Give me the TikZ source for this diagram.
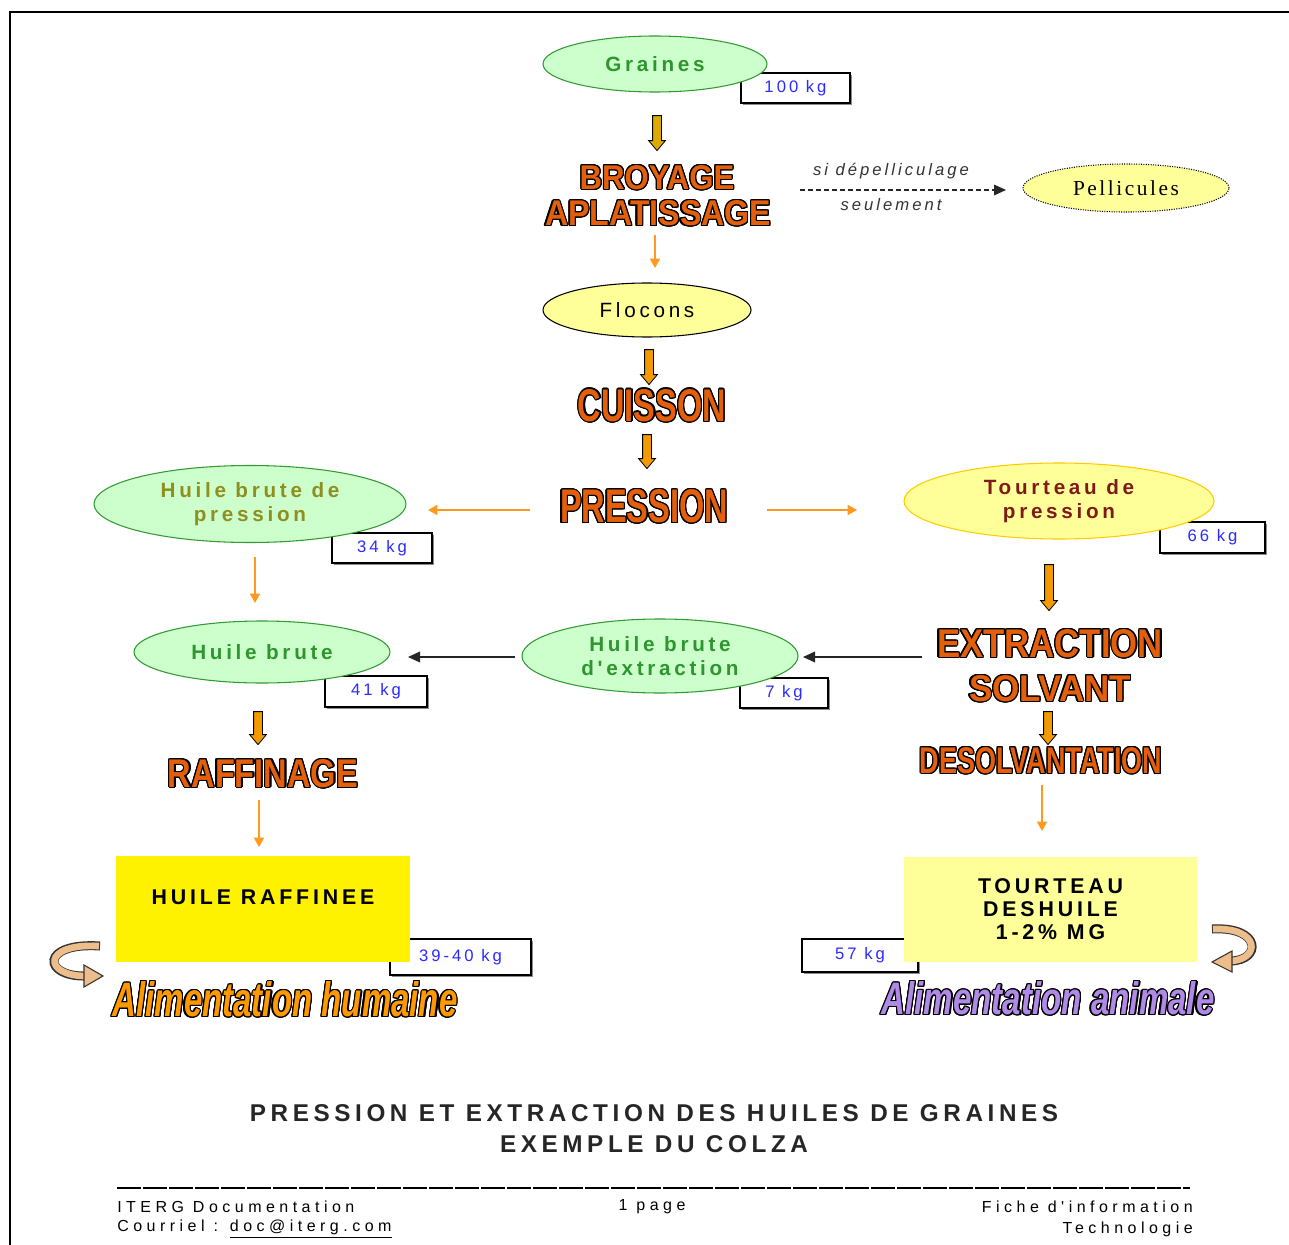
\documentclass[tikz,border=0pt]{standalone}
\usepackage{fontspec}
\setmainfont{Liberation Sans}
\newfontfamily\spfont[LetterSpace=18]{Liberation Sans}
\newfontfamily\piedfont[LetterSpace=28]{Liberation Sans}
\newfontfamily\serfont[LetterSpace=12]{Liberation Serif}
\newfontfamily\titrefont[LetterSpace=19]{Liberation Sans}
\usepackage{graphicx}
\usepackage[copies]{contour}
\contourlength{0.9pt}
\usetikzlibrary{shapes.geometric,shapes.arrows,arrows.meta,shadows}
%
\definecolor{vertfond}{HTML}{CCFFCC}
\definecolor{vertbord}{HTML}{339933}
\definecolor{verttexte}{HTML}{2E962E}
\definecolor{huileolive}{HTML}{8F8F1F}
\definecolor{jaunefond}{HTML}{FFFF99}
\definecolor{jaunebord}{HTML}{FFCC00}
\definecolor{bordeaux}{HTML}{7F1A1A}
\definecolor{bleupoids}{HTML}{2B2BFF}
\definecolor{orangeflux}{HTML}{FF9A1F}
\definecolor{orangeart}{HTML}{E35F0C}
\definecolor{orflat}{HTML}{F29A00}
\definecolor{orgraines}{HTML}{DDAA00}
\definecolor{humaine}{HTML}{FF9900}
\definecolor{animale}{HTML}{B08AE6}
\definecolor{boucle}{HTML}{EDBE8C}
%
\newcommand{\lblb}{\spfont\bfseries\fontsize{15.5}{18}\selectfont}
\newcommand{\lblr}{\spfont\fontsize{15.5}{18}\selectfont}
\newcommand{\wordart}[4]{{\color{#4}\contour{black}{\resizebox{#1}{#2}{#3}}}}
%
\begin{document}
\begin{tikzpicture}[x=0.75pt,y=-0.75pt,
  ovale/.style={ellipse, draw=vertbord, fill=vertfond, line width=0.8pt, inner sep=0pt, align=center, text=verttexte, font=\lblb},
  poids/.style={rectangle, draw=black, fill=white, line width=0.8pt, inner sep=0pt, text=bleupoids, font=\spfont\fontsize{12.5}{14}\selectfont, drop shadow={shadow xshift=1.2pt, shadow yshift=-1.2pt, fill=black!45, opacity=1}},
  carre/.style={rectangle, inner sep=0pt, align=center, font=\spfont\bfseries\fontsize{16}{17.25}\selectfont},
  art/.style={inner sep=0pt},
  fleche/.style={single arrow, draw=black, fill=orflat, line width=0.6pt, inner sep=3pt, minimum width=0pt, single arrow head extend=3pt, single arrow tip angle=80, shape border rotate=270},
  flux/.style={orangeflux, line width=1.2pt, -{Triangle[length=7pt,width=7.5pt]}},
  retour/.style={black!85, line width=1.1pt, -{Triangle[length=9pt,width=8pt]}},
  pied/.style={inner sep=0pt, font=\piedfont\fontsize{12}{14}\selectfont}]%
\useasboundingbox (0,0) rectangle (1289,1245);%
\fill[white] (0,0) rectangle (1289,1245);%
\draw[line width=1.5pt] (10,1245) -- (10,12) -- (1289,12);%
%
% boites de poids
\node[poids, minimum width=81.75pt, minimum height=22.5pt] (p100) at (795.5,88) {100 kg};%
\node[poids, minimum width=75pt, minimum height=22.5pt] (p34) at (382,548) {34 kg};%
\node[poids, minimum width=78.75pt, minimum height=23.25pt] (p66) at (1212.5,537.5) {66 kg};%
\node[poids, minimum width=76.5pt, minimum height=23.25pt] (p41) at (376,691.5) {41 kg};%
\node[poids, minimum width=66pt, minimum height=22.5pt] (p7) at (784,693) {7 kg};%
\node[poids, minimum width=105.75pt, minimum height=27pt] (p3940) at (460.5,957) {39-40 kg};%
\node[poids, minimum width=87pt, minimum height=24.75pt] (p57) at (860,955.5) {57 kg};%
%
% produits
\node[ovale, minimum width=168pt, minimum height=42pt] (graines) at (655,64) {Graines};%
\node[ovale, fill=jaunefond, draw=black, densely dotted, text=black, font=\serfont\fontsize{16}{18}\selectfont, minimum width=154.5pt, minimum height=36pt] (pellicules) at (1126,188) {Pellicules};%
\node[ovale, fill=jaunefond, draw=black, text=black, font=\lblr, minimum width=156pt, minimum height=40.5pt] (flocons) at (647,310) {Flocons};%
\node[ovale, text=huileolive, minimum width=234pt, minimum height=57.75pt] (hbp) at (250,504) {Huile brute de\\pression};%
\node[ovale, fill=jaunefond, draw=jaunebord, text=bordeaux, minimum width=232.5pt, minimum height=57pt] (tourteau) at (1059,501) {Tourteau de\\pression};%
\node[ovale, minimum width=192pt, minimum height=46.5pt] (hbrute) at (262,652) {Huile brute};%
\node[ovale, minimum width=207pt, minimum height=55.5pt] (hbext) at (660,656) {Huile brute\\d'extraction};%
%
\node[carre, fill=yellow, minimum width=220.5pt, minimum height=79.5pt] (hraff) at (263,909) {};%
\node[carre] (hrafftxt) at (263,897) {HUILE RAFFINEE};%
\node[carre, fill=jaunefond, minimum width=219.75pt, minimum height=78.75pt] (tdesh) at (1050.5,909.5) {TOURTEAU\\DESHUILE\\1-2\% MG};%
%
% operations
\node[art] (broyage) at (657,178) {\wordart{116pt}{18pt}{\bfseries BROYAGE}{orangeart}};%
\node[art] (aplat) at (658,214) {\wordart{169.5pt}{18.75pt}{\bfseries APLATISSAGE}{orangeart}};%
\node[art] (cuisson) at (652,406) {\wordart{111pt}{24pt}{\bfseries CUISSON}{orangeart}};%
\node[art] (pression) at (644,507) {\wordart{126pt}{24.75pt}{\bfseries PRESSION}{orangeart}};%
\node[art] (extraction) at (1050,644) {\wordart{169.5pt}{21pt}{\bfseries EXTRACTION}{orangeart}};%
\node[art] (solvant) at (1050,689) {\wordart{121.5pt}{19.5pt}{\bfseries SOLVANT}{orangeart}};%
\node[art] (desolv) at (1041,761) {\wordart{181.5pt}{19.5pt}{\bfseries DESOLVANTATION}{orangeart}};%
\node[art] (raffinage) at (263,774) {\wordart{142.5pt}{21pt}{\bfseries RAFFINAGE}{orangeart}};%
\node[art] (humaine) at (285,1000) {\wordart{258.75pt}{26.25pt}{\bfseries\itshape Alimentation humaine}{humaine}};%
\node[art] (animale) at (1048,999) {\wordart{249.75pt}{24.75pt}{\bfseries\itshape Alimentation animale}{animale}};%
%
% grosses fleches
\node[fleche, fill=orgraines, minimum height=26.25pt] (fg) at (657,130.5) {};%
\node[fleche, minimum height=26.25pt] (fc) at (649,364.5) {};%
\node[fleche, minimum height=25.5pt] (fp) at (647,449) {};%
\node[fleche, minimum height=34.5pt] (fe) at (1049,585) {};%
\node[fleche, minimum height=24.75pt] (fd) at (1048,725.5) {};%
\node[fleche, minimum height=24.75pt] (fr) at (258,725.5) {};%
%
% fleches fines
\coordinate (b1s) at (655,235);\coordinate (b1e) at (655,268);%
\coordinate (b2s) at (530,510);\coordinate (b2e) at (428,510);%
\coordinate (b3s) at (767,510);\coordinate (b3e) at (857,510);%
\coordinate (b4s) at (255,557);\coordinate (b4e) at (255,603);%
\coordinate (b5s) at (259,800);\coordinate (b5e) at (259,847);%
\coordinate (b6s) at (1042,785);\coordinate (b6e) at (1042,831);%
\draw[flux] (b1s) -- (b1e);%
\draw[flux] (b2s) -- (b2e);%
\draw[flux] (b3s) -- (b3e);%
\draw[flux] (b4s) -- (b4e);%
\draw[flux] (b5s) -- (b5e);%
\draw[flux] (b6s) -- (b6e);%
\coordinate (c1s) at (922,657);\coordinate (c1e) at (803,657);%
\coordinate (c2s) at (515,657);\coordinate (c2e) at (408,657);%
\draw[retour] (c1s) -- (c1e);%
\draw[retour] (c2s) -- (c2e);%
%
\coordinate (ds) at (800,190);\coordinate (de) at (1006,190);%
\draw[retour, line width=0.9pt, dash pattern=on 3.5pt off 2.5pt] (ds) -- (de);%
\node[inner sep=0pt, font=\spfont\itshape\fontsize{12.5}{14}\selectfont, text=black!80] (sidep) at (891,171) {si dépelliculage};%
\node[inner sep=0pt, font=\spfont\itshape\fontsize{12.5}{14}\selectfont, text=black!80] (seul) at (891,205) {seulement};%
%
% boucles
\draw[line width=6.75pt, black!80] (100,946) .. controls (40,942) and (42,977) .. (86,976);%
\draw[line width=5pt, boucle] (99,946) .. controls (41,943) and (43,976) .. (86,976);%
\filldraw[fill=boucle, draw=black!80, line width=0.8pt] (84,965) -- (103,976) -- (84,987) -- cycle;%
\draw[line width=6.75pt, black!80] (1212,929) .. controls (1262,926) and (1262,961) .. (1230,961);%
\draw[line width=5pt, boucle] (1213,929) .. controls (1261,927) and (1261,960) .. (1230,961);%
\filldraw[fill=boucle, draw=black!80, line width=0.8pt] (1232,951) -- (1212,962) -- (1232,972) -- cycle;%
%
% titre et pied de page
\node[inner sep=0pt, font=\titrefont\bfseries\fontsize{18.2}{20}\selectfont, text=black!85] (titre1) at (654,1113) {PRESSION ET EXTRACTION DES HUILES DE GRAINES};%
\node[inner sep=0pt, font=\titrefont\bfseries\fontsize{18.2}{20}\selectfont, text=black!85] (titre2) at (654,1144) {EXEMPLE DU COLZA};%
\draw[line width=1.5pt, dash pattern=on 18pt off 1.5pt] (117,1188) -- (1190,1188);%
\node[pied, anchor=west] (iterg) at (117,1207) {ITERG Documentation};%
\node[pied] (page) at (652,1207) {1 page};%
\node[pied, anchor=east] (fiche) at (1193,1207) {Fiche d'information};%
\node[pied, anchor=west] (courriel) at (117,1229) {Courriel : \underline{doc@iterg.com}};%
\node[pied, anchor=east] (techno) at (1193,1229) {Technologie};%
\end{tikzpicture}
\end{document}
